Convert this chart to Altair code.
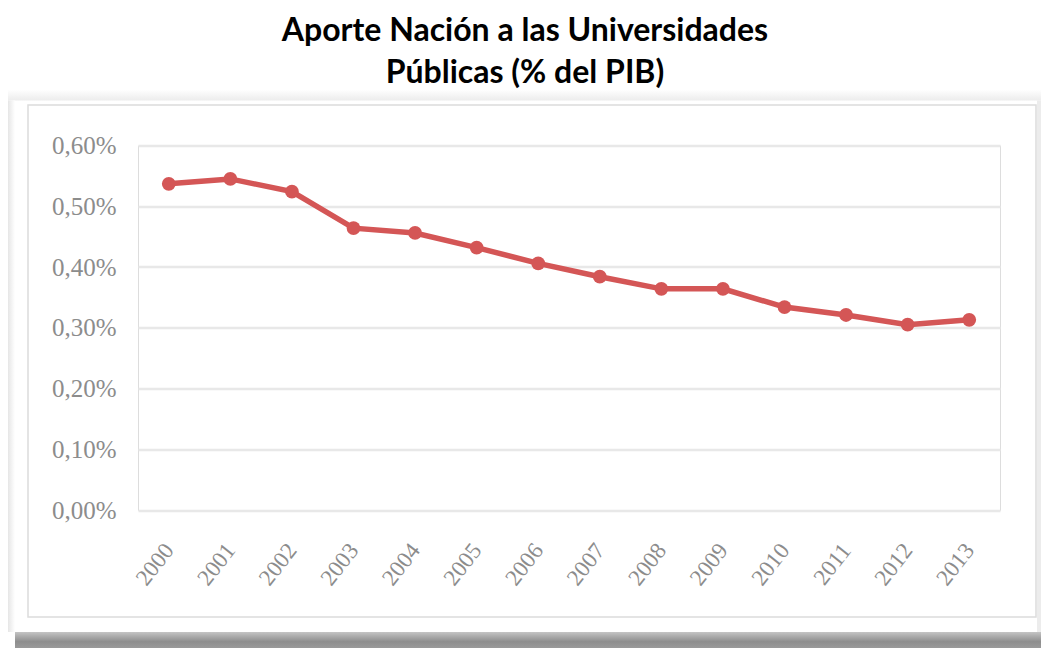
import altair as alt
import pandas as pd

years = ["2000", "2001", "2002", "2003", "2004", "2005", "2006",
         "2007", "2008", "2009", "2010", "2011", "2012", "2013"]
values = [0.537, 0.545, 0.524, 0.464, 0.456, 0.432, 0.406,
          0.384, 0.364, 0.364, 0.334, 0.321, 0.305, 0.313]
y_ticks = [0.0, 0.1, 0.2, 0.3, 0.4, 0.5, 0.6]
title_lines = ["Aporte Nación a las Universidades", "Públicas (% del PIB)"]

df = pd.DataFrame({"year": years, "value": values})
one = pd.DataFrame({"a": [0]})

W, H = 862, 364.5
RED = "#d45656"
LABEL = "#8c8c8c"

# decorative card: shadows + frame (pixel values relative to plot origin)
shadow_bottom = alt.Chart(one).mark_rect(
    color=alt.Gradient(gradient="linear",
                       stops=[alt.GradientStop(color="#c4c4c4", offset=0),
                              alt.GradientStop(color="#8e8e8e", offset=0.6),
                              alt.GradientStop(color="#9a9a9a", offset=1)],
                       x1=0, x2=0, y1=0, y2=1)
).encode(x=alt.value(-123), x2=alt.value(903), y=alt.value(486.5), y2=alt.value(502.5))

shadow_top = alt.Chart(one).mark_rect(
    color=alt.Gradient(gradient="linear",
                       stops=[alt.GradientStop(color="#ffffff", offset=0),
                              alt.GradientStop(color="#ececec", offset=1)],
                       x1=0, x2=0, y1=0, y2=1)
).encode(x=alt.value(-130), x2=alt.value(903), y=alt.value(-56), y2=alt.value(-45))

shadow_left = alt.Chart(one).mark_rect(
    color=alt.Gradient(gradient="linear",
                       stops=[alt.GradientStop(color="#e6e6e6", offset=0),
                              alt.GradientStop(color="#ffffff", offset=1)],
                       x1=0, x2=1, y1=0, y2=0)
).encode(x=alt.value(-130), x2=alt.value(-123), y=alt.value(-45), y2=alt.value(486.5))

shadow_right = alt.Chart(one).mark_rect(color="#ececec").encode(
    x=alt.value(899), x2=alt.value(903), y=alt.value(-45), y2=alt.value(486.5))

frame = alt.Chart(one).mark_rect(
    fill="white", fillOpacity=0, stroke="#dcdcdc", strokeWidth=1.5
).encode(x=alt.value(-110), x2=alt.value(898), y=alt.value(-40.5), y2=alt.value(471.5))

x_enc = alt.X("year:O", sort=years, title=None,
              axis=alt.Axis(labelAngle=-52, labelAlign="right", labelBaseline="middle",
                            labelFont="Liberation Serif", labelFontSize=23,
                            labelColor=LABEL, labelPadding=36, ticks=False,
                            domain=False, grid=False))
y_enc = alt.Y("value:Q", title=None,
              scale=alt.Scale(domain=[0, 0.6], nice=False),
              axis=alt.Axis(values=y_ticks,
                            labelExpr="replace(format(datum.value, '.2f'), '.', ',') + '%'",
                            labelFont="Liberation Serif", labelFontSize=25,
                            labelColor=LABEL, labelPadding=22, ticks=False,
                            domain=False, grid=True, gridColor="#e8e8e8",
                            gridWidth=2.5))

line = alt.Chart(df).mark_line(color=RED, strokeWidth=5.5).encode(x=x_enc, y=y_enc)
pts = alt.Chart(df).mark_circle(color=RED, opacity=1, size=190).encode(x=x_enc, y=y_enc)

chart = alt.layer(shadow_bottom, shadow_top, shadow_left, shadow_right, frame, line, pts).properties(
    width=W, height=H,
    padding={"left": 130, "top": 137.5, "right": 41, "bottom": 138},
    autosize=alt.AutoSizeParams(type="none"),
    title=alt.TitleParams(text=title_lines, anchor="middle", dx=-44, offset=0,
                          font="Lato", fontSize=32, fontWeight="bold",
                          color="black", lineHeight=42),
).configure_view(stroke=None).configure(background="white")

chart.save("out.html", embed_options={"renderer": "svg", "actions": False})
